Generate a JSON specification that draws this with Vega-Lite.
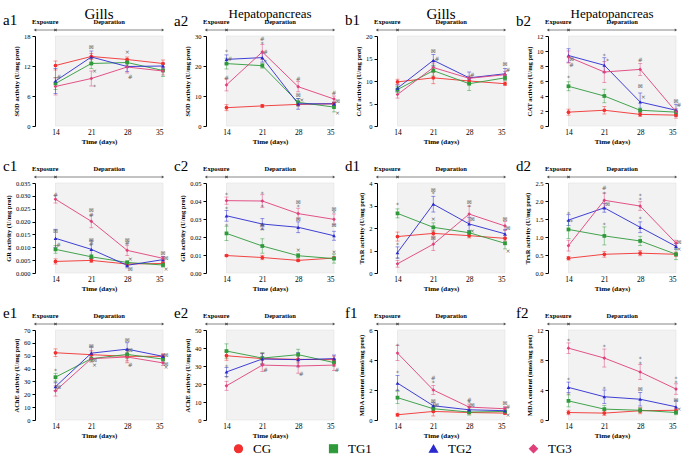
{
"$schema":"https://vega.github.io/schema/vega-lite/v6.json",
"padding":{"left":3,"top":7,"right":3,"bottom":3},
"datasets":{
"bg":[{"d":14,"d2":35}],
"per":[{"d":10,"d2":14,"c":12,"lab":"Exposure"},{"d":14,"d2":35,"c":24.5,"lab":"Deparation"}],
"ann":[
{"p":"a1","d":14.7,"m":9.8,"s":"#"},{"p":"a1","d":21,"m":15.8,"s":"⊠"},{"p":"a1","d":21.6,"m":11.1,"s":"×"},{"p":"a1","d":21.6,"m":7.9,"s":"*"},{"p":"a1","d":28,"m":14.8,"s":"×"},{"p":"a1","d":28.6,"m":9.9,"s":"#"},
{"p":"a2","d":14,"m":24.7,"s":"*"},{"p":"a2","d":14.7,"m":22.5,"s":"#"},{"p":"a2","d":14,"m":15.9,"s":"#"},{"p":"a2","d":21,"m":28.9,"s":"#"},{"p":"a2","d":21,"m":27.2,"s":"*"},{"p":"a2","d":21.6,"m":24.7,"s":"#"},{"p":"a2","d":21.6,"m":21.4,"s":"*"},{"p":"a2","d":28,"m":15.7,"s":"#"},{"p":"a2","d":28,"m":10.4,"s":"⊠"},{"p":"a2","d":28.7,"m":8.7,"s":"×"},{"p":"a2","d":35,"m":11.0,"s":"#"},{"p":"a2","d":35.7,"m":8.5,"s":"⊠"},{"p":"a2","d":35.7,"m":4.3,"s":"×"},
{"p":"b1","d":21,"m":16.7,"s":"⊠"},{"p":"b1","d":21.7,"m":14.8,"s":"#"},{"p":"b1","d":28.6,"m":11.3,"s":"#"},{"p":"b1","d":35,"m":13.7,"s":"⊠"},{"p":"b1","d":35.6,"m":12.4,"s":"#"},
{"p":"b2","d":14,"m":6.4,"s":"*"},{"p":"b2","d":14.6,"m":9.0,"s":"⊠"},{"p":"b2","d":14.6,"m":8.2,"s":"#"},{"p":"b2","d":21,"m":9.4,"s":"*"},{"p":"b2","d":21.6,"m":8.7,"s":"*"},{"p":"b2","d":28,"m":8.8,"s":"#"},{"p":"b2","d":28,"m":5.3,"s":"⊠"},{"p":"b2","d":28.6,"m":3.9,"s":"×"},{"p":"b2","d":35,"m":3.4,"s":"⊠"},{"p":"b2","d":35.6,"m":2.8,"s":"#"},
{"p":"c1","d":14,"m":0.0305,"s":"#"},{"p":"c1","d":14,"m":0.0163,"s":"⊠"},{"p":"c1","d":14.6,"m":0.0108,"s":"#"},{"p":"c1","d":21,"m":0.0245,"s":"⊠"},{"p":"c1","d":21,"m":0.0225,"s":"#"},{"p":"c1","d":21,"m":0.0128,"s":"⊠"},{"p":"c1","d":21,"m":0.0112,"s":"#"},{"p":"c1","d":28,"m":0.013,"s":"⊠"},{"p":"c1","d":28,"m":0.0115,"s":"#"},{"p":"c1","d":28.6,"m":0.0056,"s":"×"},{"p":"c1","d":28.6,"m":0.0017,"s":"⊠"},{"p":"c1","d":35,"m":0.0078,"s":"⊠"},{"p":"c1","d":35.6,"m":0.0058,"s":"⊠"},{"p":"c1","d":35.6,"m":0.0017,"s":"×"},
{"p":"c2","d":14,"m":0.0432,"s":"*"},{"p":"c2","d":14,"m":0.0358,"s":"*"},{"p":"c2","d":14,"m":0.0261,"s":"*"},{"p":"c2","d":21,"m":0.0441,"s":"*"},{"p":"c2","d":21,"m":0.0364,"s":"*"},{"p":"c2","d":21,"m":0.0267,"s":"⊠"},{"p":"c2","d":21,"m":0.0243,"s":"×"},{"p":"c2","d":28,"m":0.0395,"s":"⊠"},{"p":"c2","d":28,"m":0.0366,"s":"*"},{"p":"c2","d":28,"m":0.0298,"s":"⊠"},{"p":"c2","d":28,"m":0.0129,"s":"×"},{"p":"c2","d":35,"m":0.0358,"s":"⊠"},{"p":"c2","d":35,"m":0.0331,"s":"*"},{"p":"c2","d":35,"m":0.0267,"s":"⊠"},{"p":"c2","d":35,"m":0.0114,"s":"×"},
{"p":"d1","d":14,"m":3.01,"s":"*"},{"p":"d1","d":14,"m":1.25,"s":"*"},{"p":"d1","d":14,"m":0.63,"s":"*"},{"p":"d1","d":21,"m":3.7,"s":"⊠"},{"p":"d1","d":21,"m":3.5,"s":"*"},{"p":"d1","d":21,"m":2.38,"s":"×"},{"p":"d1","d":21,"m":1.57,"s":"⊠"},{"p":"d1","d":28,"m":3.16,"s":"⊠"},{"p":"d1","d":28,"m":2.94,"s":"*"},{"p":"d1","d":28.6,"m":2.38,"s":"⊠"},{"p":"d1","d":28.6,"m":1.88,"s":"×"},{"p":"d1","d":35,"m":2.38,"s":"⊠"},{"p":"d1","d":35.6,"m":1.99,"s":"⊠"},{"p":"d1","d":35.6,"m":1.0,"s":"×"},
{"p":"d2","d":14,"m":1.65,"s":"*"},{"p":"d2","d":14.6,"m":1.43,"s":"*"},{"p":"d2","d":21,"m":2.37,"s":"#"},{"p":"d2","d":21,"m":2.2,"s":"*"},{"p":"d2","d":21.6,"m":1.91,"s":"⊠"},{"p":"d2","d":21,"m":1.33,"s":"*"},{"p":"d2","d":28,"m":2.14,"s":"*"},{"p":"d2","d":28,"m":2.02,"s":"*"},{"p":"d2","d":28,"m":1.49,"s":"*"},{"p":"d2","d":35.6,"m":0.85,"s":"⊠"},{"p":"d2","d":35.6,"m":0.66,"s":"×"},
{"p":"e1","d":14,"m":38.2,"s":"*"},{"p":"e1","d":14,"m":28.5,"s":"*"},{"p":"e1","d":14.6,"m":25.9,"s":"⊠"},{"p":"e1","d":21,"m":57.2,"s":"⊠"},{"p":"e1","d":21.6,"m":46.4,"s":"⊠"},{"p":"e1","d":21.6,"m":43.1,"s":"×"},{"p":"e1","d":28,"m":62.6,"s":"⊠"},{"p":"e1","d":28.6,"m":54.6,"s":"⊠"},{"p":"e1","d":28.6,"m":43.1,"s":"#"},{"p":"e1","d":35.6,"m":50.3,"s":"⊠"},{"p":"e1","d":35.6,"m":43.8,"s":"⊠"},{"p":"e1","d":35.6,"m":41.3,"s":"×"},
{"p":"e2","d":14,"m":29.5,"s":"*"},{"p":"e2","d":14,"m":23.1,"s":"*"},{"p":"e2","d":21.6,"m":27.7,"s":"#"},{"p":"e2","d":28.6,"m":25.8,"s":"#"},{"p":"e2","d":35.6,"m":27.7,"s":"#"},
{"p":"f1","d":14,"m":4.92,"s":"*"},{"p":"f1","d":14,"m":3.14,"s":"*"},{"p":"f1","d":14,"m":1.93,"s":"*"},{"p":"f1","d":21,"m":2.77,"s":"#"},{"p":"f1","d":21,"m":2.44,"s":"*"},{"p":"f1","d":21,"m":1.27,"s":"⊠"},{"p":"f1","d":21.6,"m":1.0,"s":"⊠"},{"p":"f1","d":28,"m":1.34,"s":"#"},{"p":"f1","d":28,"m":1.16,"s":"*"},{"p":"f1","d":28.6,"m":1.0,"s":"⊠"},{"p":"f1","d":35,"m":1.12,"s":"⊠"},{"p":"f1","d":35.6,"m":0.9,"s":"#"},{"p":"f1","d":35.6,"m":0.31,"s":"×"},
{"p":"f2","d":14,"m":10.6,"s":"*"},{"p":"f2","d":14,"m":5.3,"s":"*"},{"p":"f2","d":14,"m":3.4,"s":"*"},{"p":"f2","d":21,"m":9.7,"s":"*"},{"p":"f2","d":21,"m":4.1,"s":"*"},{"p":"f2","d":28,"m":8.1,"s":"*"},{"p":"f2","d":28,"m":7.5,"s":"*"},{"p":"f2","d":28,"m":4.2,"s":"⊠"},{"p":"f2","d":35,"m":5.5,"s":"*"},{"p":"f2","d":35,"m":4.9,"s":"*"},{"p":"f2","d":35,"m":2.7,"s":"⊠"},{"p":"f2","d":35.6,"m":1.5,"s":"×"}
],
"d":[
{"p":"a1","g":"CG","d":14,"m":12.1,"e":0.9},{"p":"a1","g":"CG","d":21,"m":13.9,"e":0.6},{"p":"a1","g":"CG","d":28,"m":13.3,"e":0.5},{"p":"a1","g":"CG","d":35,"m":12.5,"e":0.7},
{"p":"a1","g":"TG1","d":14,"m":8.5,"e":1.2},{"p":"a1","g":"TG1","d":21,"m":12.5,"e":1.0},{"p":"a1","g":"TG1","d":28,"m":12.7,"e":0.7},{"p":"a1","g":"TG1","d":35,"m":11.1,"e":1.2},
{"p":"a1","g":"TG2","d":14,"m":9.0,"e":2.5},{"p":"a1","g":"TG2","d":21,"m":13.8,"e":1.2},{"p":"a1","g":"TG2","d":28,"m":11.9,"e":1.0},{"p":"a1","g":"TG2","d":35,"m":12.0,"e":0.6},
{"p":"a1","g":"TG3","d":14,"m":7.9,"e":1.7},{"p":"a1","g":"TG3","d":21,"m":9.5,"e":1.5},{"p":"a1","g":"TG3","d":28,"m":11.8,"e":1.2},{"p":"a1","g":"TG3","d":35,"m":11.0,"e":0.8},
{"p":"a2","g":"CG","d":14,"m":6.1,"e":1.0},{"p":"a2","g":"CG","d":21,"m":6.7,"e":0.5},{"p":"a2","g":"CG","d":28,"m":7.2,"e":0.5},{"p":"a2","g":"CG","d":35,"m":7.4,"e":0.5},
{"p":"a2","g":"TG1","d":14,"m":20.8,"e":1.8},{"p":"a2","g":"TG1","d":21,"m":20.1,"e":0.8},{"p":"a2","g":"TG1","d":28,"m":7.9,"e":1.2},{"p":"a2","g":"TG1","d":35,"m":6.3,"e":1.6},
{"p":"a2","g":"TG2","d":14,"m":22.2,"e":1.5},{"p":"a2","g":"TG2","d":21,"m":22.8,"e":1.5},{"p":"a2","g":"TG2","d":28,"m":7.4,"e":1.8},{"p":"a2","g":"TG2","d":35,"m":7.4,"e":0.5},
{"p":"a2","g":"TG3","d":14,"m":13.7,"e":2.0},{"p":"a2","g":"TG3","d":21,"m":24.7,"e":2.5},{"p":"a2","g":"TG3","d":28,"m":13.1,"e":1.7},{"p":"a2","g":"TG3","d":35,"m":9.0,"e":1.0},
{"p":"b1","g":"CG","d":14,"m":9.8,"e":0.6},{"p":"b1","g":"CG","d":21,"m":10.7,"e":1.3},{"p":"b1","g":"CG","d":28,"m":10.0,"e":0.6},{"p":"b1","g":"CG","d":35,"m":9.4,"e":0.4},
{"p":"b1","g":"TG1","d":14,"m":8.1,"e":0.7},{"p":"b1","g":"TG1","d":21,"m":12.3,"e":1.2},{"p":"b1","g":"TG1","d":28,"m":9.4,"e":1.5},{"p":"b1","g":"TG1","d":35,"m":10.7,"e":0.6},
{"p":"b1","g":"TG2","d":14,"m":8.4,"e":0.7},{"p":"b1","g":"TG2","d":21,"m":14.6,"e":1.3},{"p":"b1","g":"TG2","d":28,"m":10.7,"e":1.3},{"p":"b1","g":"TG2","d":35,"m":11.6,"e":1.2},
{"p":"b1","g":"TG3","d":14,"m":7.0,"e":0.8},{"p":"b1","g":"TG3","d":21,"m":13.0,"e":1.0},{"p":"b1","g":"TG3","d":28,"m":10.6,"e":0.5},{"p":"b1","g":"TG3","d":35,"m":11.4,"e":0.7},
{"p":"b2","g":"CG","d":14,"m":1.85,"e":0.4},{"p":"b2","g":"CG","d":21,"m":2.1,"e":0.5},{"p":"b2","g":"CG","d":28,"m":1.55,"e":0.3},{"p":"b2","g":"CG","d":35,"m":1.45,"e":0.4},
{"p":"b2","g":"TG1","d":14,"m":5.3,"e":0.6},{"p":"b2","g":"TG1","d":21,"m":4.0,"e":0.9},{"p":"b2","g":"TG1","d":28,"m":2.1,"e":0.3},{"p":"b2","g":"TG1","d":35,"m":1.85,"e":0.3},
{"p":"b2","g":"TG2","d":14,"m":9.4,"e":0.9},{"p":"b2","g":"TG2","d":21,"m":8.1,"e":1.0},{"p":"b2","g":"TG2","d":28,"m":3.2,"e":1.2},{"p":"b2","g":"TG2","d":35,"m":2.1,"e":0.8},
{"p":"b2","g":"TG3","d":14,"m":9.2,"e":0.8},{"p":"b2","g":"TG3","d":21,"m":7.2,"e":1.4},{"p":"b2","g":"TG3","d":28,"m":7.55,"e":0.8},{"p":"b2","g":"TG3","d":35,"m":1.9,"e":0.4},
{"p":"c1","g":"CG","d":14,"m":0.0045,"e":0.001},{"p":"c1","g":"CG","d":21,"m":0.0049,"e":0.0008},{"p":"c1","g":"CG","d":28,"m":0.0035,"e":0.0006},{"p":"c1","g":"CG","d":35,"m":0.0037,"e":0.0007},
{"p":"c1","g":"TG1","d":14,"m":0.0092,"e":0.0015},{"p":"c1","g":"TG1","d":21,"m":0.0063,"e":0.0008},{"p":"c1","g":"TG1","d":28,"m":0.0041,"e":0.0006},{"p":"c1","g":"TG1","d":35,"m":0.0031,"e":0.0008},
{"p":"c1","g":"TG2","d":14,"m":0.0135,"e":0.0035},{"p":"c1","g":"TG2","d":21,"m":0.0092,"e":0.0035},{"p":"c1","g":"TG2","d":28,"m":0.003,"e":0.001},{"p":"c1","g":"TG2","d":35,"m":0.0052,"e":0.0012},
{"p":"c1","g":"TG3","d":14,"m":0.0287,"e":0.0015},{"p":"c1","g":"TG3","d":21,"m":0.0201,"e":0.0025},{"p":"c1","g":"TG3","d":28,"m":0.0088,"e":0.002},{"p":"c1","g":"TG3","d":35,"m":0.0057,"e":0.0008},
{"p":"c2","g":"CG","d":14,"m":0.0097,"e":0.0005},{"p":"c2","g":"CG","d":21,"m":0.0086,"e":0.0012},{"p":"c2","g":"CG","d":28,"m":0.007,"e":0.0006},{"p":"c2","g":"CG","d":35,"m":0.0083,"e":0.0008},
{"p":"c2","g":"TG1","d":14,"m":0.022,"e":0.004},{"p":"c2","g":"TG1","d":21,"m":0.015,"e":0.004},{"p":"c2","g":"TG1","d":28,"m":0.0096,"e":0.0012},{"p":"c2","g":"TG1","d":35,"m":0.008,"e":0.0025},
{"p":"c2","g":"TG2","d":14,"m":0.0318,"e":0.003},{"p":"c2","g":"TG2","d":21,"m":0.0272,"e":0.003},{"p":"c2","g":"TG2","d":28,"m":0.0254,"e":0.003},{"p":"c2","g":"TG2","d":35,"m":0.0207,"e":0.0025},
{"p":"c2","g":"TG3","d":14,"m":0.0402,"e":0.002},{"p":"c2","g":"TG3","d":21,"m":0.04,"e":0.0035},{"p":"c2","g":"TG3","d":28,"m":0.033,"e":0.003},{"p":"c2","g":"TG3","d":35,"m":0.0298,"e":0.003},
{"p":"d1","g":"CG","d":14,"m":1.62,"e":0.2},{"p":"d1","g":"CG","d":21,"m":1.76,"e":0.12},{"p":"d1","g":"CG","d":28,"m":1.66,"e":0.1},{"p":"d1","g":"CG","d":35,"m":1.54,"e":0.12},
{"p":"d1","g":"TG1","d":14,"m":2.65,"e":0.2},{"p":"d1","g":"TG1","d":21,"m":2.03,"e":0.2},{"p":"d1","g":"TG1","d":28,"m":1.79,"e":0.1},{"p":"d1","g":"TG1","d":35,"m":1.32,"e":0.25},
{"p":"d1","g":"TG2","d":14,"m":0.91,"e":0.25},{"p":"d1","g":"TG2","d":21,"m":3.06,"e":0.35},{"p":"d1","g":"TG2","d":28,"m":2.18,"e":0.3},{"p":"d1","g":"TG2","d":35,"m":1.74,"e":0.2},
{"p":"d1","g":"TG3","d":14,"m":0.41,"e":0.15},{"p":"d1","g":"TG3","d":21,"m":1.28,"e":0.28},{"p":"d1","g":"TG3","d":28,"m":2.62,"e":0.35},{"p":"d1","g":"TG3","d":35,"m":2.09,"e":0.2},
{"p":"d2","g":"CG","d":14,"m":0.41,"e":0.05},{"p":"d2","g":"CG","d":21,"m":0.52,"e":0.08},{"p":"d2","g":"CG","d":28,"m":0.55,"e":0.07},{"p":"d2","g":"CG","d":35,"m":0.52,"e":0.06},
{"p":"d2","g":"TG1","d":14,"m":1.21,"e":0.25},{"p":"d2","g":"TG1","d":21,"m":1.03,"e":0.25},{"p":"d2","g":"TG1","d":28,"m":0.89,"e":0.13},{"p":"d2","g":"TG1","d":35,"m":0.52,"e":0.15},
{"p":"d2","g":"TG2","d":14,"m":1.47,"e":0.15},{"p":"d2","g":"TG2","d":21,"m":1.81,"e":0.12},{"p":"d2","g":"TG2","d":28,"m":1.27,"e":0.15},{"p":"d2","g":"TG2","d":35,"m":0.74,"e":0.08},
{"p":"d2","g":"TG3","d":14,"m":0.76,"e":0.15},{"p":"d2","g":"TG3","d":21,"m":2.02,"e":0.2},{"p":"d2","g":"TG3","d":28,"m":1.86,"e":0.12},{"p":"d2","g":"TG3","d":35,"m":0.83,"e":0.08},
{"p":"e1","g":"CG","d":14,"m":52.3,"e":3},{"p":"e1","g":"CG","d":21,"m":50.8,"e":3},{"p":"e1","g":"CG","d":28,"m":49.5,"e":5},{"p":"e1","g":"CG","d":35,"m":49.5,"e":2},
{"p":"e1","g":"TG1","d":14,"m":33.3,"e":3},{"p":"e1","g":"TG1","d":21,"m":47.7,"e":2.5},{"p":"e1","g":"TG1","d":28,"m":51.0,"e":3},{"p":"e1","g":"TG1","d":35,"m":47.4,"e":2},
{"p":"e1","g":"TG2","d":14,"m":25.9,"e":3},{"p":"e1","g":"TG2","d":21,"m":52.0,"e":5},{"p":"e1","g":"TG2","d":28,"m":55.1,"e":5},{"p":"e1","g":"TG2","d":35,"m":49.5,"e":1.5},
{"p":"e1","g":"TG3","d":14,"m":22.6,"e":4},{"p":"e1","g":"TG3","d":21,"m":47.7,"e":2.5},{"p":"e1","g":"TG3","d":28,"m":49.0,"e":3},{"p":"e1","g":"TG3","d":35,"m":44.4,"e":2},
{"p":"e2","g":"CG","d":14,"m":35.7,"e":2.5},{"p":"e2","g":"CG","d":21,"m":34.1,"e":3},{"p":"e2","g":"CG","d":28,"m":33.7,"e":2},{"p":"e2","g":"CG","d":35,"m":33.5,"e":2},
{"p":"e2","g":"TG1","d":14,"m":38.3,"e":4},{"p":"e2","g":"TG1","d":21,"m":34.4,"e":3},{"p":"e2","g":"TG1","d":28,"m":36.3,"e":3},{"p":"e2","g":"TG1","d":35,"m":31.9,"e":2},
{"p":"e2","g":"TG2","d":14,"m":26.7,"e":2.5},{"p":"e2","g":"TG2","d":21,"m":33.9,"e":3},{"p":"e2","g":"TG2","d":28,"m":33.5,"e":4},{"p":"e2","g":"TG2","d":35,"m":34.1,"e":2},
{"p":"e2","g":"TG3","d":14,"m":19.0,"e":2.5},{"p":"e2","g":"TG3","d":21,"m":30.5,"e":3.5},{"p":"e2","g":"TG3","d":28,"m":30.0,"e":4},{"p":"e2","g":"TG3","d":35,"m":30.5,"e":3},
{"p":"f1","g":"CG","d":14,"m":0.35,"e":0.1},{"p":"f1","g":"CG","d":21,"m":0.57,"e":0.3},{"p":"f1","g":"CG","d":28,"m":0.5,"e":0.1},{"p":"f1","g":"CG","d":35,"m":0.46,"e":0.1},
{"p":"f1","g":"TG1","d":14,"m":1.49,"e":0.4},{"p":"f1","g":"TG1","d":21,"m":0.75,"e":0.2},{"p":"f1","g":"TG1","d":28,"m":0.53,"e":0.2},{"p":"f1","g":"TG1","d":35,"m":0.57,"e":0.1},
{"p":"f1","g":"TG2","d":14,"m":2.46,"e":0.5},{"p":"f1","g":"TG2","d":21,"m":0.95,"e":0.2},{"p":"f1","g":"TG2","d":28,"m":0.68,"e":0.2},{"p":"f1","g":"TG2","d":35,"m":0.62,"e":0.2},
{"p":"f1","g":"TG3","d":14,"m":4.46,"e":0.5},{"p":"f1","g":"TG3","d":21,"m":2.0,"e":0.3},{"p":"f1","g":"TG3","d":28,"m":0.86,"e":0.2},{"p":"f1","g":"TG3","d":35,"m":0.75,"e":0.15},
{"p":"f2","g":"CG","d":14,"m":1.0,"e":0.3},{"p":"f2","g":"CG","d":21,"m":0.92,"e":0.3},{"p":"f2","g":"CG","d":28,"m":1.23,"e":0.4},{"p":"f2","g":"CG","d":35,"m":1.3,"e":0.3},
{"p":"f2","g":"TG1","d":14,"m":2.55,"e":0.8},{"p":"f2","g":"TG1","d":21,"m":1.45,"e":0.5},{"p":"f2","g":"TG1","d":28,"m":1.3,"e":0.3},{"p":"f2","g":"TG1","d":35,"m":1.0,"e":0.3},
{"p":"f2","g":"TG2","d":14,"m":4.35,"e":0.7},{"p":"f2","g":"TG2","d":21,"m":3.1,"e":0.9},{"p":"f2","g":"TG2","d":28,"m":2.77,"e":0.9},{"p":"f2","g":"TG2","d":35,"m":1.76,"e":0.8},
{"p":"f2","g":"TG3","d":14,"m":9.58,"e":0.7},{"p":"f2","g":"TG3","d":21,"m":8.26,"e":1.2},{"p":"f2","g":"TG3","d":28,"m":6.4,"e":1.0},{"p":"f2","g":"TG3","d":35,"m":4.13,"e":0.7}
]},
"columns":4,
"spacing":{"row":57,"column":43},
"bounds":"flush",
"concat":[
{"width":128,"height":90,"title":{"text":"a1","offset":-21},
 "encoding":{"x":{"field":"d","type":"quantitative","scale":{"domain":[10,35],"nice":false,"zero":false},"axis":{"values":[14,21,28,35],"title":"Time (days)"}}},
 "layer":[
  {"data":{"name":"bg"},"mark":{"type":"rect","color":"#f2f2f2","stroke":"#dddddd","strokeWidth":0.5},"encoding":{"x2":{"field":"d2"}}},
  {"data":{"values":[{"h":"Gills"}]},"mark":{"type":"text","fontSize":15,"clip":false},"encoding":{"x":{"value":64},"y":{"value":-22},"text":{"field":"h"}}},
  {"data":{"name":"per"},"mark":{"type":"rule","color":"#555555","strokeWidth":0.7,"clip":false},"encoding":{"x2":{"field":"d2"},"y":{"value":-6}}},
  {"data":{"name":"per"},"mark":{"type":"point","shape":"triangle-left","filled":true,"size":8,"color":"#555555","opacity":1,"clip":false},"encoding":{"y":{"value":-6}}},
  {"data":{"name":"per"},"mark":{"type":"point","shape":"triangle-right","filled":true,"size":8,"color":"#555555","opacity":1,"clip":false},"encoding":{"x":{"field":"d2","type":"quantitative"},"y":{"value":-6}}},
  {"data":{"name":"per"},"mark":{"type":"text","fontSize":6.5,"fontWeight":"bold","clip":false},"encoding":{"x":{"field":"c","type":"quantitative"},"y":{"value":-14},"text":{"field":"lab"}}},
  {"data":{"name":"d"},"transform":[{"filter":"datum.p==='a1'"}],
   "encoding":{"y":{"field":"m","type":"quantitative","scale":{"domain":[0,18],"nice":false},"axis":{"values":[0,6,12,18],"title":"SOD activity (U/mg prot)"}},
     "color":{"field":"g","type":"nominal","scale":{"domain":["CG","TG1","TG2","TG3"],"range":["#f23030","#2e9a3a","#2a2ad0","#e0407a"]},
       "legend":{"title":null,"orient":"none","legendX":197,"legendY":406,"direction":"horizontal","symbolSize":64,"labelOffset":8,"columnPadding":55,"labelFontSize":13,"labelFont":"Liberation Serif","labelColor":"#000",
         "encode":{"symbols":{"update":{"shape":{"signal":"datum.value==='CG'?'M-3.75,0L3.75,0M1,0A1,1,0,1,1,-1,0A1,1,0,1,1,1,0Z':datum.value==='TG1'?'M-3.75,0L3.75,0M-0.9,-0.9L0.9,-0.9L0.9,0.9L-0.9,0.9Z':datum.value==='TG2'?'M-3.75,0.2L3.75,0.2M0,-1.1L1.1,0.9L-1.1,0.9Z':'M-3.75,0L3.75,0M0,-1.2L1,0L0,1.2L-1,0Z'"},"fill":{"signal":"scale('color',datum.value)"},"stroke":{"signal":"scale('color',datum.value)"},"strokeWidth":{"value":1.2},"opacity":{"value":1}}}}}}},
   "layer":[
     {"mark":{"type":"errorbar","ticks":true,"size":4,"thickness":0.8,"opacity":0.6},"encoding":{"yError":{"field":"e"}}},
     {"mark":{"type":"line","strokeWidth":0.9}},
     {"mark":{"type":"point","filled":true,"size":14,"opacity":1},"encoding":{"shape":{"field":"g","type":"nominal","legend":null,"scale":{"domain":["CG","TG1","TG2","TG3"],"range":["circle","square","triangle-up","diamond"]}}}},
     {"data":{"name":"ann"},"transform":[{"filter":"datum.p==='a1'"}],"mark":{"type":"text","fontSize":6,"font":"DejaVu Sans"},"encoding":{"text":{"field":"s"},"color":{"value":"#666666"}}}
   ]}
 ]},
{"width":128,"height":90,"title":{"text":"a2","offset":-21},
 "encoding":{"x":{"field":"d","type":"quantitative","scale":{"domain":[10,35],"nice":false,"zero":false},"axis":{"values":[14,21,28,35],"title":"Time (days)"}}},
 "layer":[
  {"data":{"name":"bg"},"mark":{"type":"rect","color":"#f2f2f2","stroke":"#dddddd","strokeWidth":0.5},"encoding":{"x2":{"field":"d2"}}},
  {"data":{"values":[{"h":"Hepatopancreas"}]},"mark":{"type":"text","fontSize":13,"clip":false},"encoding":{"x":{"value":64},"y":{"value":-22},"text":{"field":"h"}}},
  {"data":{"name":"per"},"mark":{"type":"rule","color":"#555555","strokeWidth":0.7,"clip":false},"encoding":{"x2":{"field":"d2"},"y":{"value":-6}}},
  {"data":{"name":"per"},"mark":{"type":"point","shape":"triangle-left","filled":true,"size":8,"color":"#555555","opacity":1,"clip":false},"encoding":{"y":{"value":-6}}},
  {"data":{"name":"per"},"mark":{"type":"point","shape":"triangle-right","filled":true,"size":8,"color":"#555555","opacity":1,"clip":false},"encoding":{"x":{"field":"d2","type":"quantitative"},"y":{"value":-6}}},
  {"data":{"name":"per"},"mark":{"type":"text","fontSize":6.5,"fontWeight":"bold","clip":false},"encoding":{"x":{"field":"c","type":"quantitative"},"y":{"value":-14},"text":{"field":"lab"}}},
  {"data":{"name":"d"},"transform":[{"filter":"datum.p==='a2'"}],
   "encoding":{"y":{"field":"m","type":"quantitative","scale":{"domain":[0,30],"nice":false},"axis":{"values":[0,10,20,30],"title":"SOD activity (U/mg prot)"}},
     "color":{"field":"g","type":"nominal"}},
   "layer":[
     {"mark":{"type":"errorbar","ticks":true,"size":4,"thickness":0.8,"opacity":0.6},"encoding":{"yError":{"field":"e"}}},
     {"mark":{"type":"line","strokeWidth":0.9}},
     {"mark":{"type":"point","filled":true,"size":14,"opacity":1},"encoding":{"shape":{"field":"g","type":"nominal","legend":null}}},
     {"data":{"name":"ann"},"transform":[{"filter":"datum.p==='a2'"}],"mark":{"type":"text","fontSize":6,"font":"DejaVu Sans"},"encoding":{"text":{"field":"s"},"color":{"value":"#666666"}}}
   ]}
 ]},
{"width":128,"height":90,"title":{"text":"b1","offset":-21},
 "encoding":{"x":{"field":"d","type":"quantitative","scale":{"domain":[10,35],"nice":false,"zero":false},"axis":{"values":[14,21,28,35],"title":"Time (days)"}}},
 "layer":[
  {"data":{"name":"bg"},"mark":{"type":"rect","color":"#f2f2f2","stroke":"#dddddd","strokeWidth":0.5},"encoding":{"x2":{"field":"d2"}}},
  {"data":{"values":[{"h":"Gills"}]},"mark":{"type":"text","fontSize":15,"clip":false},"encoding":{"x":{"value":64},"y":{"value":-22},"text":{"field":"h"}}},
  {"data":{"name":"per"},"mark":{"type":"rule","color":"#555555","strokeWidth":0.7,"clip":false},"encoding":{"x2":{"field":"d2"},"y":{"value":-6}}},
  {"data":{"name":"per"},"mark":{"type":"point","shape":"triangle-left","filled":true,"size":8,"color":"#555555","opacity":1,"clip":false},"encoding":{"y":{"value":-6}}},
  {"data":{"name":"per"},"mark":{"type":"point","shape":"triangle-right","filled":true,"size":8,"color":"#555555","opacity":1,"clip":false},"encoding":{"x":{"field":"d2","type":"quantitative"},"y":{"value":-6}}},
  {"data":{"name":"per"},"mark":{"type":"text","fontSize":6.5,"fontWeight":"bold","clip":false},"encoding":{"x":{"field":"c","type":"quantitative"},"y":{"value":-14},"text":{"field":"lab"}}},
  {"data":{"name":"d"},"transform":[{"filter":"datum.p==='b1'"}],
   "encoding":{"y":{"field":"m","type":"quantitative","scale":{"domain":[0,20],"nice":false},"axis":{"values":[0,5,10,15,20],"title":"CAT activity (U/mg prot)"}},
     "color":{"field":"g","type":"nominal"}},
   "layer":[
     {"mark":{"type":"errorbar","ticks":true,"size":4,"thickness":0.8,"opacity":0.6},"encoding":{"yError":{"field":"e"}}},
     {"mark":{"type":"line","strokeWidth":0.9}},
     {"mark":{"type":"point","filled":true,"size":14,"opacity":1},"encoding":{"shape":{"field":"g","type":"nominal","legend":null}}},
     {"data":{"name":"ann"},"transform":[{"filter":"datum.p==='b1'"}],"mark":{"type":"text","fontSize":6,"font":"DejaVu Sans"},"encoding":{"text":{"field":"s"},"color":{"value":"#666666"}}}
   ]}
 ]},
{"width":128,"height":90,"title":{"text":"b2","offset":-21},
 "encoding":{"x":{"field":"d","type":"quantitative","scale":{"domain":[10,35],"nice":false,"zero":false},"axis":{"values":[14,21,28,35],"title":"Time (days)"}}},
 "layer":[
  {"data":{"name":"bg"},"mark":{"type":"rect","color":"#f2f2f2","stroke":"#dddddd","strokeWidth":0.5},"encoding":{"x2":{"field":"d2"}}},
  {"data":{"values":[{"h":"Hepatopancreas"}]},"mark":{"type":"text","fontSize":13,"clip":false},"encoding":{"x":{"value":64},"y":{"value":-22},"text":{"field":"h"}}},
  {"data":{"name":"per"},"mark":{"type":"rule","color":"#555555","strokeWidth":0.7,"clip":false},"encoding":{"x2":{"field":"d2"},"y":{"value":-6}}},
  {"data":{"name":"per"},"mark":{"type":"point","shape":"triangle-left","filled":true,"size":8,"color":"#555555","opacity":1,"clip":false},"encoding":{"y":{"value":-6}}},
  {"data":{"name":"per"},"mark":{"type":"point","shape":"triangle-right","filled":true,"size":8,"color":"#555555","opacity":1,"clip":false},"encoding":{"x":{"field":"d2","type":"quantitative"},"y":{"value":-6}}},
  {"data":{"name":"per"},"mark":{"type":"text","fontSize":6.5,"fontWeight":"bold","clip":false},"encoding":{"x":{"field":"c","type":"quantitative"},"y":{"value":-14},"text":{"field":"lab"}}},
  {"data":{"name":"d"},"transform":[{"filter":"datum.p==='b2'"}],
   "encoding":{"y":{"field":"m","type":"quantitative","scale":{"domain":[0,12],"nice":false},"axis":{"values":[0,2,4,6,8,10,12],"title":"CAT activity (U/mg prot)"}},
     "color":{"field":"g","type":"nominal"}},
   "layer":[
     {"mark":{"type":"errorbar","ticks":true,"size":4,"thickness":0.8,"opacity":0.6},"encoding":{"yError":{"field":"e"}}},
     {"mark":{"type":"line","strokeWidth":0.9}},
     {"mark":{"type":"point","filled":true,"size":14,"opacity":1},"encoding":{"shape":{"field":"g","type":"nominal","legend":null}}},
     {"data":{"name":"ann"},"transform":[{"filter":"datum.p==='b2'"}],"mark":{"type":"text","fontSize":6,"font":"DejaVu Sans"},"encoding":{"text":{"field":"s"},"color":{"value":"#666666"}}}
   ]}
 ]},
{"width":128,"height":90,"title":{"text":"c1","offset":-8},
 "encoding":{"x":{"field":"d","type":"quantitative","scale":{"domain":[10,35],"nice":false,"zero":false},"axis":{"values":[14,21,28,35],"title":"Time (days)"}}},
 "layer":[
  {"data":{"name":"bg"},"mark":{"type":"rect","color":"#f2f2f2","stroke":"#dddddd","strokeWidth":0.5},"encoding":{"x2":{"field":"d2"}}},
  {"data":{"name":"per"},"mark":{"type":"rule","color":"#555555","strokeWidth":0.7,"clip":false},"encoding":{"x2":{"field":"d2"},"y":{"value":-6}}},
  {"data":{"name":"per"},"mark":{"type":"point","shape":"triangle-left","filled":true,"size":8,"color":"#555555","opacity":1,"clip":false},"encoding":{"y":{"value":-6}}},
  {"data":{"name":"per"},"mark":{"type":"point","shape":"triangle-right","filled":true,"size":8,"color":"#555555","opacity":1,"clip":false},"encoding":{"x":{"field":"d2","type":"quantitative"},"y":{"value":-6}}},
  {"data":{"name":"per"},"mark":{"type":"text","fontSize":6.5,"fontWeight":"bold","clip":false},"encoding":{"x":{"field":"c","type":"quantitative"},"y":{"value":-14},"text":{"field":"lab"}}},
  {"data":{"name":"d"},"transform":[{"filter":"datum.p==='c1'"}],
   "encoding":{"y":{"field":"m","type":"quantitative","scale":{"domain":[0,0.035],"nice":false},"axis":{"values":[0,0.005,0.01,0.015,0.02,0.025,0.03,0.035],"format":".3f","title":"GR activity (U/mg prot)"}},
     "color":{"field":"g","type":"nominal"}},
   "layer":[
     {"mark":{"type":"errorbar","ticks":true,"size":4,"thickness":0.8,"opacity":0.6},"encoding":{"yError":{"field":"e"}}},
     {"mark":{"type":"line","strokeWidth":0.9}},
     {"mark":{"type":"point","filled":true,"size":14,"opacity":1},"encoding":{"shape":{"field":"g","type":"nominal","legend":null}}},
     {"data":{"name":"ann"},"transform":[{"filter":"datum.p==='c1'"}],"mark":{"type":"text","fontSize":6,"font":"DejaVu Sans"},"encoding":{"text":{"field":"s"},"color":{"value":"#666666"}}}
   ]}
 ]},
{"width":128,"height":90,"title":{"text":"c2","offset":-8},
 "encoding":{"x":{"field":"d","type":"quantitative","scale":{"domain":[10,35],"nice":false,"zero":false},"axis":{"values":[14,21,28,35],"title":"Time (days)"}}},
 "layer":[
  {"data":{"name":"bg"},"mark":{"type":"rect","color":"#f2f2f2","stroke":"#dddddd","strokeWidth":0.5},"encoding":{"x2":{"field":"d2"}}},
  {"data":{"name":"per"},"mark":{"type":"rule","color":"#555555","strokeWidth":0.7,"clip":false},"encoding":{"x2":{"field":"d2"},"y":{"value":-6}}},
  {"data":{"name":"per"},"mark":{"type":"point","shape":"triangle-left","filled":true,"size":8,"color":"#555555","opacity":1,"clip":false},"encoding":{"y":{"value":-6}}},
  {"data":{"name":"per"},"mark":{"type":"point","shape":"triangle-right","filled":true,"size":8,"color":"#555555","opacity":1,"clip":false},"encoding":{"x":{"field":"d2","type":"quantitative"},"y":{"value":-6}}},
  {"data":{"name":"per"},"mark":{"type":"text","fontSize":6.5,"fontWeight":"bold","clip":false},"encoding":{"x":{"field":"c","type":"quantitative"},"y":{"value":-14},"text":{"field":"lab"}}},
  {"data":{"name":"d"},"transform":[{"filter":"datum.p==='c2'"}],
   "encoding":{"y":{"field":"m","type":"quantitative","scale":{"domain":[0,0.05],"nice":false},"axis":{"values":[0,0.01,0.02,0.03,0.04,0.05],"format":".2f","title":"GR activity (U/mg prot)"}},
     "color":{"field":"g","type":"nominal"}},
   "layer":[
     {"mark":{"type":"errorbar","ticks":true,"size":4,"thickness":0.8,"opacity":0.6},"encoding":{"yError":{"field":"e"}}},
     {"mark":{"type":"line","strokeWidth":0.9}},
     {"mark":{"type":"point","filled":true,"size":14,"opacity":1},"encoding":{"shape":{"field":"g","type":"nominal","legend":null}}},
     {"data":{"name":"ann"},"transform":[{"filter":"datum.p==='c2'"}],"mark":{"type":"text","fontSize":6,"font":"DejaVu Sans"},"encoding":{"text":{"field":"s"},"color":{"value":"#666666"}}}
   ]}
 ]},
{"width":128,"height":90,"title":{"text":"d1","offset":-8},
 "encoding":{"x":{"field":"d","type":"quantitative","scale":{"domain":[10,35],"nice":false,"zero":false},"axis":{"values":[14,21,28,35],"title":"Time (days)"}}},
 "layer":[
  {"data":{"name":"bg"},"mark":{"type":"rect","color":"#f2f2f2","stroke":"#dddddd","strokeWidth":0.5},"encoding":{"x2":{"field":"d2"}}},
  {"data":{"name":"per"},"mark":{"type":"rule","color":"#555555","strokeWidth":0.7,"clip":false},"encoding":{"x2":{"field":"d2"},"y":{"value":-6}}},
  {"data":{"name":"per"},"mark":{"type":"point","shape":"triangle-left","filled":true,"size":8,"color":"#555555","opacity":1,"clip":false},"encoding":{"y":{"value":-6}}},
  {"data":{"name":"per"},"mark":{"type":"point","shape":"triangle-right","filled":true,"size":8,"color":"#555555","opacity":1,"clip":false},"encoding":{"x":{"field":"d2","type":"quantitative"},"y":{"value":-6}}},
  {"data":{"name":"per"},"mark":{"type":"text","fontSize":6.5,"fontWeight":"bold","clip":false},"encoding":{"x":{"field":"c","type":"quantitative"},"y":{"value":-14},"text":{"field":"lab"}}},
  {"data":{"name":"d"},"transform":[{"filter":"datum.p==='d1'"}],
   "encoding":{"y":{"field":"m","type":"quantitative","scale":{"domain":[0,4],"nice":false},"axis":{"values":[0,1,2,3,4],"title":"TrxR activity (U/mg prot)"}},
     "color":{"field":"g","type":"nominal"}},
   "layer":[
     {"mark":{"type":"errorbar","ticks":true,"size":4,"thickness":0.8,"opacity":0.6},"encoding":{"yError":{"field":"e"}}},
     {"mark":{"type":"line","strokeWidth":0.9}},
     {"mark":{"type":"point","filled":true,"size":14,"opacity":1},"encoding":{"shape":{"field":"g","type":"nominal","legend":null}}},
     {"data":{"name":"ann"},"transform":[{"filter":"datum.p==='d1'"}],"mark":{"type":"text","fontSize":6,"font":"DejaVu Sans"},"encoding":{"text":{"field":"s"},"color":{"value":"#666666"}}}
   ]}
 ]},
{"width":128,"height":90,"title":{"text":"d2","offset":-8},
 "encoding":{"x":{"field":"d","type":"quantitative","scale":{"domain":[10,35],"nice":false,"zero":false},"axis":{"values":[14,21,28,35],"title":"Time (days)"}}},
 "layer":[
  {"data":{"name":"bg"},"mark":{"type":"rect","color":"#f2f2f2","stroke":"#dddddd","strokeWidth":0.5},"encoding":{"x2":{"field":"d2"}}},
  {"data":{"name":"per"},"mark":{"type":"rule","color":"#555555","strokeWidth":0.7,"clip":false},"encoding":{"x2":{"field":"d2"},"y":{"value":-6}}},
  {"data":{"name":"per"},"mark":{"type":"point","shape":"triangle-left","filled":true,"size":8,"color":"#555555","opacity":1,"clip":false},"encoding":{"y":{"value":-6}}},
  {"data":{"name":"per"},"mark":{"type":"point","shape":"triangle-right","filled":true,"size":8,"color":"#555555","opacity":1,"clip":false},"encoding":{"x":{"field":"d2","type":"quantitative"},"y":{"value":-6}}},
  {"data":{"name":"per"},"mark":{"type":"text","fontSize":6.5,"fontWeight":"bold","clip":false},"encoding":{"x":{"field":"c","type":"quantitative"},"y":{"value":-14},"text":{"field":"lab"}}},
  {"data":{"name":"d"},"transform":[{"filter":"datum.p==='d2'"}],
   "encoding":{"y":{"field":"m","type":"quantitative","scale":{"domain":[0,2.5],"nice":false},"axis":{"values":[0,0.5,1,1.5,2,2.5],"format":".1f","title":"TrxR activity (U/mg prot)"}},
     "color":{"field":"g","type":"nominal"}},
   "layer":[
     {"mark":{"type":"errorbar","ticks":true,"size":4,"thickness":0.8,"opacity":0.6},"encoding":{"yError":{"field":"e"}}},
     {"mark":{"type":"line","strokeWidth":0.9}},
     {"mark":{"type":"point","filled":true,"size":14,"opacity":1},"encoding":{"shape":{"field":"g","type":"nominal","legend":null}}},
     {"data":{"name":"ann"},"transform":[{"filter":"datum.p==='d2'"}],"mark":{"type":"text","fontSize":6,"font":"DejaVu Sans"},"encoding":{"text":{"field":"s"},"color":{"value":"#666666"}}}
   ]}
 ]},
{"width":128,"height":90,"title":{"text":"e1","offset":-8},
 "encoding":{"x":{"field":"d","type":"quantitative","scale":{"domain":[10,35],"nice":false,"zero":false},"axis":{"values":[14,21,28,35],"title":"Time (days)"}}},
 "layer":[
  {"data":{"name":"bg"},"mark":{"type":"rect","color":"#f2f2f2","stroke":"#dddddd","strokeWidth":0.5},"encoding":{"x2":{"field":"d2"}}},
  {"data":{"name":"per"},"mark":{"type":"rule","color":"#555555","strokeWidth":0.7,"clip":false},"encoding":{"x2":{"field":"d2"},"y":{"value":-6}}},
  {"data":{"name":"per"},"mark":{"type":"point","shape":"triangle-left","filled":true,"size":8,"color":"#555555","opacity":1,"clip":false},"encoding":{"y":{"value":-6}}},
  {"data":{"name":"per"},"mark":{"type":"point","shape":"triangle-right","filled":true,"size":8,"color":"#555555","opacity":1,"clip":false},"encoding":{"x":{"field":"d2","type":"quantitative"},"y":{"value":-6}}},
  {"data":{"name":"per"},"mark":{"type":"text","fontSize":6.5,"fontWeight":"bold","clip":false},"encoding":{"x":{"field":"c","type":"quantitative"},"y":{"value":-14},"text":{"field":"lab"}}},
  {"data":{"name":"d"},"transform":[{"filter":"datum.p==='e1'"}],
   "encoding":{"y":{"field":"m","type":"quantitative","scale":{"domain":[0,70],"nice":false},"axis":{"values":[0,10,20,30,40,50,60,70],"title":"AChE activity (U/mg prot)"}},
     "color":{"field":"g","type":"nominal"}},
   "layer":[
     {"mark":{"type":"errorbar","ticks":true,"size":4,"thickness":0.8,"opacity":0.6},"encoding":{"yError":{"field":"e"}}},
     {"mark":{"type":"line","strokeWidth":0.9}},
     {"mark":{"type":"point","filled":true,"size":14,"opacity":1},"encoding":{"shape":{"field":"g","type":"nominal","legend":null}}},
     {"data":{"name":"ann"},"transform":[{"filter":"datum.p==='e1'"}],"mark":{"type":"text","fontSize":6,"font":"DejaVu Sans"},"encoding":{"text":{"field":"s"},"color":{"value":"#666666"}}}
   ]}
 ]},
{"width":128,"height":90,"title":{"text":"e2","offset":-8},
 "encoding":{"x":{"field":"d","type":"quantitative","scale":{"domain":[10,35],"nice":false,"zero":false},"axis":{"values":[14,21,28,35],"title":"Time (days)"}}},
 "layer":[
  {"data":{"name":"bg"},"mark":{"type":"rect","color":"#f2f2f2","stroke":"#dddddd","strokeWidth":0.5},"encoding":{"x2":{"field":"d2"}}},
  {"data":{"name":"per"},"mark":{"type":"rule","color":"#555555","strokeWidth":0.7,"clip":false},"encoding":{"x2":{"field":"d2"},"y":{"value":-6}}},
  {"data":{"name":"per"},"mark":{"type":"point","shape":"triangle-left","filled":true,"size":8,"color":"#555555","opacity":1,"clip":false},"encoding":{"y":{"value":-6}}},
  {"data":{"name":"per"},"mark":{"type":"point","shape":"triangle-right","filled":true,"size":8,"color":"#555555","opacity":1,"clip":false},"encoding":{"x":{"field":"d2","type":"quantitative"},"y":{"value":-6}}},
  {"data":{"name":"per"},"mark":{"type":"text","fontSize":6.5,"fontWeight":"bold","clip":false},"encoding":{"x":{"field":"c","type":"quantitative"},"y":{"value":-14},"text":{"field":"lab"}}},
  {"data":{"name":"d"},"transform":[{"filter":"datum.p==='e2'"}],
   "encoding":{"y":{"field":"m","type":"quantitative","scale":{"domain":[0,50],"nice":false},"axis":{"values":[0,10,20,30,40,50],"title":"AChE activity (U/mg prot)"}},
     "color":{"field":"g","type":"nominal"}},
   "layer":[
     {"mark":{"type":"errorbar","ticks":true,"size":4,"thickness":0.8,"opacity":0.6},"encoding":{"yError":{"field":"e"}}},
     {"mark":{"type":"line","strokeWidth":0.9}},
     {"mark":{"type":"point","filled":true,"size":14,"opacity":1},"encoding":{"shape":{"field":"g","type":"nominal","legend":null}}},
     {"data":{"name":"ann"},"transform":[{"filter":"datum.p==='e2'"}],"mark":{"type":"text","fontSize":6,"font":"DejaVu Sans"},"encoding":{"text":{"field":"s"},"color":{"value":"#666666"}}}
   ]}
 ]},
{"width":128,"height":90,"title":{"text":"f1","offset":-8},
 "encoding":{"x":{"field":"d","type":"quantitative","scale":{"domain":[10,35],"nice":false,"zero":false},"axis":{"values":[14,21,28,35],"title":"Time (days)"}}},
 "layer":[
  {"data":{"name":"bg"},"mark":{"type":"rect","color":"#f2f2f2","stroke":"#dddddd","strokeWidth":0.5},"encoding":{"x2":{"field":"d2"}}},
  {"data":{"name":"per"},"mark":{"type":"rule","color":"#555555","strokeWidth":0.7,"clip":false},"encoding":{"x2":{"field":"d2"},"y":{"value":-6}}},
  {"data":{"name":"per"},"mark":{"type":"point","shape":"triangle-left","filled":true,"size":8,"color":"#555555","opacity":1,"clip":false},"encoding":{"y":{"value":-6}}},
  {"data":{"name":"per"},"mark":{"type":"point","shape":"triangle-right","filled":true,"size":8,"color":"#555555","opacity":1,"clip":false},"encoding":{"x":{"field":"d2","type":"quantitative"},"y":{"value":-6}}},
  {"data":{"name":"per"},"mark":{"type":"text","fontSize":6.5,"fontWeight":"bold","clip":false},"encoding":{"x":{"field":"c","type":"quantitative"},"y":{"value":-14},"text":{"field":"lab"}}},
  {"data":{"name":"d"},"transform":[{"filter":"datum.p==='f1'"}],
   "encoding":{"y":{"field":"m","type":"quantitative","scale":{"domain":[0,6],"nice":false},"axis":{"values":[0,2,4,6],"title":"MDA content (nmol/mg prot)"}},
     "color":{"field":"g","type":"nominal"}},
   "layer":[
     {"mark":{"type":"errorbar","ticks":true,"size":4,"thickness":0.8,"opacity":0.6},"encoding":{"yError":{"field":"e"}}},
     {"mark":{"type":"line","strokeWidth":0.9}},
     {"mark":{"type":"point","filled":true,"size":14,"opacity":1},"encoding":{"shape":{"field":"g","type":"nominal","legend":null}}},
     {"data":{"name":"ann"},"transform":[{"filter":"datum.p==='f1'"}],"mark":{"type":"text","fontSize":6,"font":"DejaVu Sans"},"encoding":{"text":{"field":"s"},"color":{"value":"#666666"}}}
   ]}
 ]},
{"width":128,"height":90,"title":{"text":"f2","offset":-8},
 "encoding":{"x":{"field":"d","type":"quantitative","scale":{"domain":[10,35],"nice":false,"zero":false},"axis":{"values":[14,21,28,35],"title":"Time (days)"}}},
 "layer":[
  {"data":{"name":"bg"},"mark":{"type":"rect","color":"#f2f2f2","stroke":"#dddddd","strokeWidth":0.5},"encoding":{"x2":{"field":"d2"}}},
  {"data":{"name":"per"},"mark":{"type":"rule","color":"#555555","strokeWidth":0.7,"clip":false},"encoding":{"x2":{"field":"d2"},"y":{"value":-6}}},
  {"data":{"name":"per"},"mark":{"type":"point","shape":"triangle-left","filled":true,"size":8,"color":"#555555","opacity":1,"clip":false},"encoding":{"y":{"value":-6}}},
  {"data":{"name":"per"},"mark":{"type":"point","shape":"triangle-right","filled":true,"size":8,"color":"#555555","opacity":1,"clip":false},"encoding":{"x":{"field":"d2","type":"quantitative"},"y":{"value":-6}}},
  {"data":{"name":"per"},"mark":{"type":"text","fontSize":6.5,"fontWeight":"bold","clip":false},"encoding":{"x":{"field":"c","type":"quantitative"},"y":{"value":-14},"text":{"field":"lab"}}},
  {"data":{"name":"d"},"transform":[{"filter":"datum.p==='f2'"}],
   "encoding":{"y":{"field":"m","type":"quantitative","scale":{"domain":[0,12],"nice":false},"axis":{"values":[0,4,8,12],"title":"MDA content (nmol/mg prot)"}},
     "color":{"field":"g","type":"nominal"}},
   "layer":[
     {"mark":{"type":"errorbar","ticks":true,"size":4,"thickness":0.8,"opacity":0.6},"encoding":{"yError":{"field":"e"}}},
     {"mark":{"type":"line","strokeWidth":0.9}},
     {"mark":{"type":"point","filled":true,"size":14,"opacity":1},"encoding":{"shape":{"field":"g","type":"nominal","legend":null}}},
     {"data":{"name":"ann"},"transform":[{"filter":"datum.p==='f2'"}],"mark":{"type":"text","fontSize":6,"font":"DejaVu Sans"},"encoding":{"text":{"field":"s"},"color":{"value":"#666666"}}}
   ]}
 ]}
],
"config":{
 "font":"Liberation Serif",
 "view":{"stroke":null},
 "axis":{"labelFont":"Liberation Serif","titleFont":"Liberation Serif","labelFontSize":6.5,"titleFontSize":6.5,"titleFontWeight":"bold","labelColor":"#000000","titleColor":"#000000","domainColor":"#000000","tickColor":"#000000","grid":false,"tickSize":3,"labelPadding":2,"titlePadding":4},
 "axisX":{"domain":false,"ticks":false,"labelFontSize":7.5,"titleFontSize":7,"titlePadding":2},
 "title":{"font":"Liberation Serif","fontSize":15,"fontWeight":"normal","anchor":"start","frame":"group","dx":-32,"color":"#000000"}
}
}
